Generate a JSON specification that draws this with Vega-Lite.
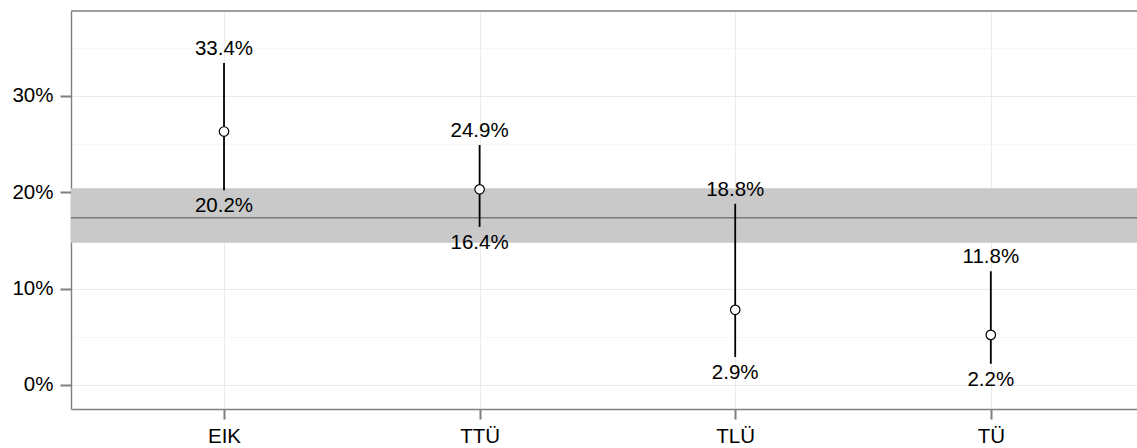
{
  "$schema": "https://vega.github.io/schema/vega-lite/v6.json",
  "autosize": {"type": "none"},
  "width": 1066,
  "height": 398,
  "padding": {"left": 71, "top": 11, "right": 0, "bottom": 39},
  "background": "white",
  "datasets": {
    "unis": [
      {"uni": "EIK", "p": 0.263, "lo": 0.202, "hi": 0.334},
      {"uni": "TTÜ", "p": 0.203, "lo": 0.164, "hi": 0.249},
      {"uni": "TLÜ", "p": 0.078, "lo": 0.029, "hi": 0.188},
      {"uni": "TÜ", "p": 0.052, "lo": 0.022, "hi": 0.118}
    ],
    "overall": [
      {"mean": 0.1735, "lo": 0.1476, "hi": 0.204}
    ]
  },
  "config": {
    "font": "Liberation Sans",
    "view": {"stroke": null},
    "axis": {
      "domain": true,
      "domainColor": "#7f7f7f",
      "domainWidth": 1.4,
      "labelFont": "Liberation Sans",
      "labelFontSize": 20.5,
      "labelColor": "#000000",
      "tickColor": "#7f7f7f",
      "tickWidth": 2,
      "title": null
    }
  },
  "layer": [
    {
      "data": {"name": "overall"},
      "mark": {"type": "rect", "color": "#c9c9c9", "opacity": 1},
      "encoding": {
        "y": {"field": "hi", "type": "quantitative"},
        "y2": {"field": "lo"}
      }
    },
    {
      "data": {"name": "overall"},
      "mark": {"type": "rule", "color": "#7a7a7a", "strokeWidth": 1.5},
      "encoding": {
        "y": {"field": "mean", "type": "quantitative"}
      }
    },
    {
      "data": {"name": "overall"},
      "mark": {"type": "rule", "color": "#7f7f7f", "strokeWidth": 1.4},
      "encoding": {
        "y": {"datum": 0.388, "type": "quantitative"}
      }
    },
    {
      "data": {"name": "unis"},
      "mark": {"type": "rule", "color": "#000000", "strokeWidth": 1.8},
      "encoding": {
        "x": {
          "field": "uni",
          "type": "nominal",
          "sort": ["EIK", "TTÜ", "TLÜ", "TÜ"],
          "scale": {"type": "point", "padding": 0.5853, "align": 0.5114},
          "axis": {
            "labelAngle": 0,
            "tickSize": 10,
            "labelPadding": 7,
            "grid": true,
            "gridColor": "#ebebeb",
            "gridWidth": 1
          }
        },
        "y": {
          "field": "lo",
          "type": "quantitative",
          "scale": {"domain": [-0.0249, 0.388], "nice": false, "zero": false},
          "axis": {
            "values": [0, 0.05, 0.1, 0.15, 0.2, 0.25, 0.3, 0.35],
            "format": ".0%",
            "labelExpr": "round(datum.value * 100) % 10 === 0 ? datum.label : ''",
            "tickOpacity": {"condition": {"test": "round(datum.value * 100) % 10 === 0", "value": 1}, "value": 0},
            "gridColor": {"condition": {"test": "round(datum.value * 100) % 10 === 0", "value": "#ebebeb"}, "value": "#f7f7f7"},
            "grid": true,
            "tickSize": 11,
            "labelPadding": 7
          }
        },
        "y2": {"field": "hi"}
      }
    },
    {
      "data": {"name": "unis"},
      "mark": {"type": "point", "shape": "circle", "fill": "#ffffff", "stroke": "#000000", "strokeWidth": 1.2, "size": 90, "opacity": 1, "fillOpacity": 1},
      "encoding": {
        "x": {"field": "uni", "type": "nominal", "sort": ["EIK", "TTÜ", "TLÜ", "TÜ"]},
        "y": {"field": "p", "type": "quantitative"}
      }
    },
    {
      "data": {"name": "unis"},
      "mark": {"type": "text", "fontSize": 20.5, "font": "Liberation Sans", "color": "#000000", "baseline": "alphabetic", "dy": -8},
      "encoding": {
        "x": {"field": "uni", "type": "nominal", "sort": ["EIK", "TTÜ", "TLÜ", "TÜ"]},
        "y": {"field": "hi", "type": "quantitative"},
        "text": {"field": "hi", "type": "quantitative", "format": ".1%"}
      }
    },
    {
      "data": {"name": "unis"},
      "mark": {"type": "text", "fontSize": 20.5, "font": "Liberation Sans", "color": "#000000", "baseline": "alphabetic", "dy": 22},
      "encoding": {
        "x": {"field": "uni", "type": "nominal", "sort": ["EIK", "TTÜ", "TLÜ", "TÜ"]},
        "y": {"field": "lo", "type": "quantitative"},
        "text": {"field": "lo", "type": "quantitative", "format": ".1%"}
      }
    }
  ]
}
